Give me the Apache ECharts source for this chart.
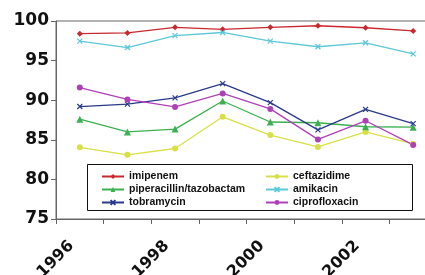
<!DOCTYPE html>
<html>
<head>
<meta charset="utf-8">
<script src="https://cdn.jsdelivr.net/npm/echarts@6/dist/echarts.min.js"></script>
<style>
  html, body { margin: 0; padding: 0; background: #fff; }
  #chart { width: 425px; height: 275px; }
</style>
</head>
<body>
<div id="chart"></div>
<script>
// years on the x axis
const years = ['1996', '1997', '1998', '1999', '2000', '2001', '2002', '2003'];

// susceptibility (%) per antibiotic
const imipenem = [98.4, 98.5, 99.2, 98.95, 99.2, 99.4, 99.15, 98.75];
const ceftazidime = [84.05, 83.1, 83.9, 87.9, 85.6, 84.1, 86.0, 84.5];
const piperacillinTazobactam = [87.6, 86.0, 86.35, 89.9, 87.25, 87.15, 86.65, 86.6];
const amikacin = [97.45, 96.65, 98.15, 98.55, 97.45, 96.75, 97.25, 95.85];
const tobramycin = [89.2, 89.5, 90.3, 92.1, 89.7, 86.25, 88.85, 87.05];
const ciprofloxacin = [91.6, 90.1, 89.15, 90.85, 88.9, 85.05, 87.4, 84.35];

const yTicks = [75, 80, 85, 90, 95, 100];

const chart = echarts.init(document.getElementById('chart'));

const cross = 'path://M0,0L10,10M10,0L0,10';

function line(name, data, color, symbol, size) {
    const isCross = symbol === cross;
    return {
        name: name,
        type: 'line',
        data: data,
        symbol: symbol,
        symbolSize: size,
        lineStyle: { color: color, width: 1.3 },
        itemStyle: isCross
            ? { color: color, borderColor: color, borderWidth: 1.2 }
            : { color: color },
        animation: false,
    };
}

const legendText = { fontFamily: 'Liberation Sans', fontWeight: 'bold', fontSize: 10.5, color: '#111' };

chart.setOption({
    backgroundColor: '#fff',
    grid: {
        left: 56, top: 21, width: 381, height: 198,
        outerBoundsMode: 'none',
        containLabel: false,
        show: true, borderColor: '#666', borderWidth: 1,
    },
    xAxis: {
        type: 'category',
        data: years,
        boundaryGap: true,
        axisLine: { lineStyle: { color: '#666', width: 1 } },
        axisTick: { show: true, interval: 0, inside: false, length: 5, lineStyle: { color: '#666' } },
        axisLabel: {
            interval: 1,
            rotate: 45,
            margin: 16,
            padding: [0, 12, 0, 0],
            fontFamily: 'DejaVu Sans',
            fontWeight: 'bold',
            fontSize: 16,
            color: '#111',
        },
        splitLine: { show: false },
    },
    yAxis: {
        type: 'value',
        min: yTicks[0],
        max: yTicks[yTicks.length - 1],
        interval: 5,
        axisLine: { show: true, lineStyle: { color: '#666', width: 1 } },
        axisTick: { show: true, length: 5, lineStyle: { color: '#666' } },
        axisLabel: {
            margin: 7,
            fontFamily: 'DejaVu Sans',
            fontWeight: 'bold',
            fontSize: 17,
            color: '#111',
        },
        splitLine: { show: false },
    },
    graphic: [{
        type: 'rect',
        shape: { x: 87.5, y: 164.5, width: 325, height: 46 },
        style: { fill: '#fff', stroke: '#111', lineWidth: 1 },
        z: 50,
    }],
    legend: [{
        orient: 'vertical',
        left: 96, top: 166,
        itemWidth: 22, itemHeight: 6, itemGap: 2,
        data: ['imipenem', 'piperacillin/tazobactam', 'tobramycin'],
        textStyle: legendText,
        z: 60,
    }, {
        orient: 'vertical',
        left: 260, top: 166,
        itemWidth: 22, itemHeight: 6, itemGap: 2,
        data: ['ceftazidime', 'amikacin', 'ciprofloxacin'],
        textStyle: legendText,
        z: 60,
    }],
    series: [
        line('imipenem', imipenem, '#c8282f', 'diamond', 6),
        line('ceftazidime', ceftazidime, '#d8e048', 'circle', 6),
        line('piperacillin/tazobactam', piperacillinTazobactam, '#3cb050', 'triangle', 7),
        line('amikacin', amikacin, '#5cc8d8', cross, 5),
        line('tobramycin', tobramycin, '#2a3a8a', cross, 5),
        line('ciprofloxacin', ciprofloxacin, '#b040b8', 'circle', 6),
    ],
});
</script>
</body>
</html>
